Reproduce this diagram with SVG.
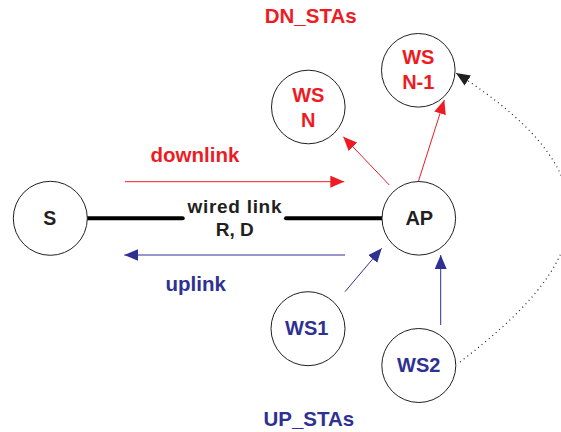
<svg xmlns="http://www.w3.org/2000/svg" width="561" height="432" viewBox="0 0 561 432">
<style>
.node{fill:#fff;stroke:#231f20;stroke-width:1}
.t{font-family:"Liberation Sans",Arial,Helvetica,sans-serif;font-weight:bold;text-anchor:middle}
.red{fill:#ed1c24}
.blue{fill:#2e3192}
.blk{fill:#231f20}
.ra{stroke:#ed1c24;stroke-width:1;fill:none}
.ba{stroke:#2e3192;stroke-width:1;fill:none}
</style>
<defs>
<marker id="mr" markerUnits="userSpaceOnUse" markerWidth="14" markerHeight="12" refX="14" refY="6" orient="auto"><path d="M0,0 L14,6 L0,12 z" fill="#ed1c24"/></marker>
<marker id="mb" markerUnits="userSpaceOnUse" markerWidth="14" markerHeight="12" refX="14" refY="6" orient="auto"><path d="M0,0 L14,6 L0,12 z" fill="#2e3192"/></marker>
<marker id="mk" markerUnits="userSpaceOnUse" markerWidth="14" markerHeight="12" refX="14" refY="6" orient="auto"><path d="M0,0 L14,6 L0,12 z" fill="#231f20"/></marker>
</defs>
<rect width="561" height="432" fill="#fff"/>
<text class="t red" x="310.7" y="22.7" font-size="20.5">DN_STAs</text>
<text class="t blue" x="308.8" y="425.7" font-size="20.5">UP_STAs</text>
<g id="connectors">
<line x1="87" y1="218.3" x2="182.7" y2="218.3" stroke="#000" stroke-width="4" stroke-linecap="round"/>
<line x1="286" y1="218.3" x2="382" y2="218.3" stroke="#000" stroke-width="4" stroke-linecap="round"/>
<text class="t blk" x="234.5" y="213.3" font-size="19" textLength="94">wired link</text>
<text class="t blk" x="234.7" y="235.5" font-size="19">R, D</text>
<line class="ra" x1="125" y1="181.7" x2="344.3" y2="181.7" marker-end="url(#mr)"/>
<text class="t red" x="195" y="161.7" font-size="20.5">downlink</text>
<line class="ba" x1="345" y1="255" x2="124.3" y2="255" marker-end="url(#mb)"/>
<text class="t blue" x="195.7" y="290.5" font-size="20.5">uplink</text>
<line class="ra" x1="389.3" y1="185" x2="343.3" y2="136.7" marker-end="url(#mr)"/>
<line class="ra" x1="418.3" y1="181.7" x2="444.3" y2="100" marker-end="url(#mr)"/>
<line class="ba" x1="345" y1="291.7" x2="381.7" y2="248.3" marker-end="url(#mb)"/>
<line class="ba" x1="440.7" y1="325" x2="440.7" y2="255" marker-end="url(#mb)"/>
<path d="M460,362 C580,270 632,185 456,73" fill="none" stroke="#231f20" stroke-width="1.2" stroke-dasharray="1 3.6" marker-end="url(#mk)"/>
</g>
<g id="S"><circle class="node" cx="50.3" cy="218.3" r="37"/><text class="t blk" x="49.7" y="224.5" font-size="19.5">S</text></g>
<g id="AP"><circle class="node" cx="418.8" cy="218.3" r="36.8"/><text class="t blk" x="419.3" y="224.7" font-size="20">AP</text></g>
<g id="WSN"><circle class="node" cx="308.3" cy="107" r="36.8"/><text class="t red" x="308.3" y="101.7" font-size="20">WS</text><text class="t red" x="308.3" y="126.7" font-size="20">N</text></g>
<g id="WSN1"><circle class="node" cx="418.3" cy="70.3" r="36.8"/><text class="t red" x="418.3" y="64.3" font-size="20">WS</text><text class="t red" x="418.3" y="89.3" font-size="20">N-1</text></g>
<g id="WS1"><circle class="node" cx="308" cy="328.7" r="37"/><text class="t blue" x="306.7" y="335" font-size="20">WS1</text></g>
<g id="WS2"><circle class="node" cx="418.8" cy="365.5" r="37"/><text class="t blue" x="418.7" y="372.3" font-size="20">WS2</text></g>
</svg>
